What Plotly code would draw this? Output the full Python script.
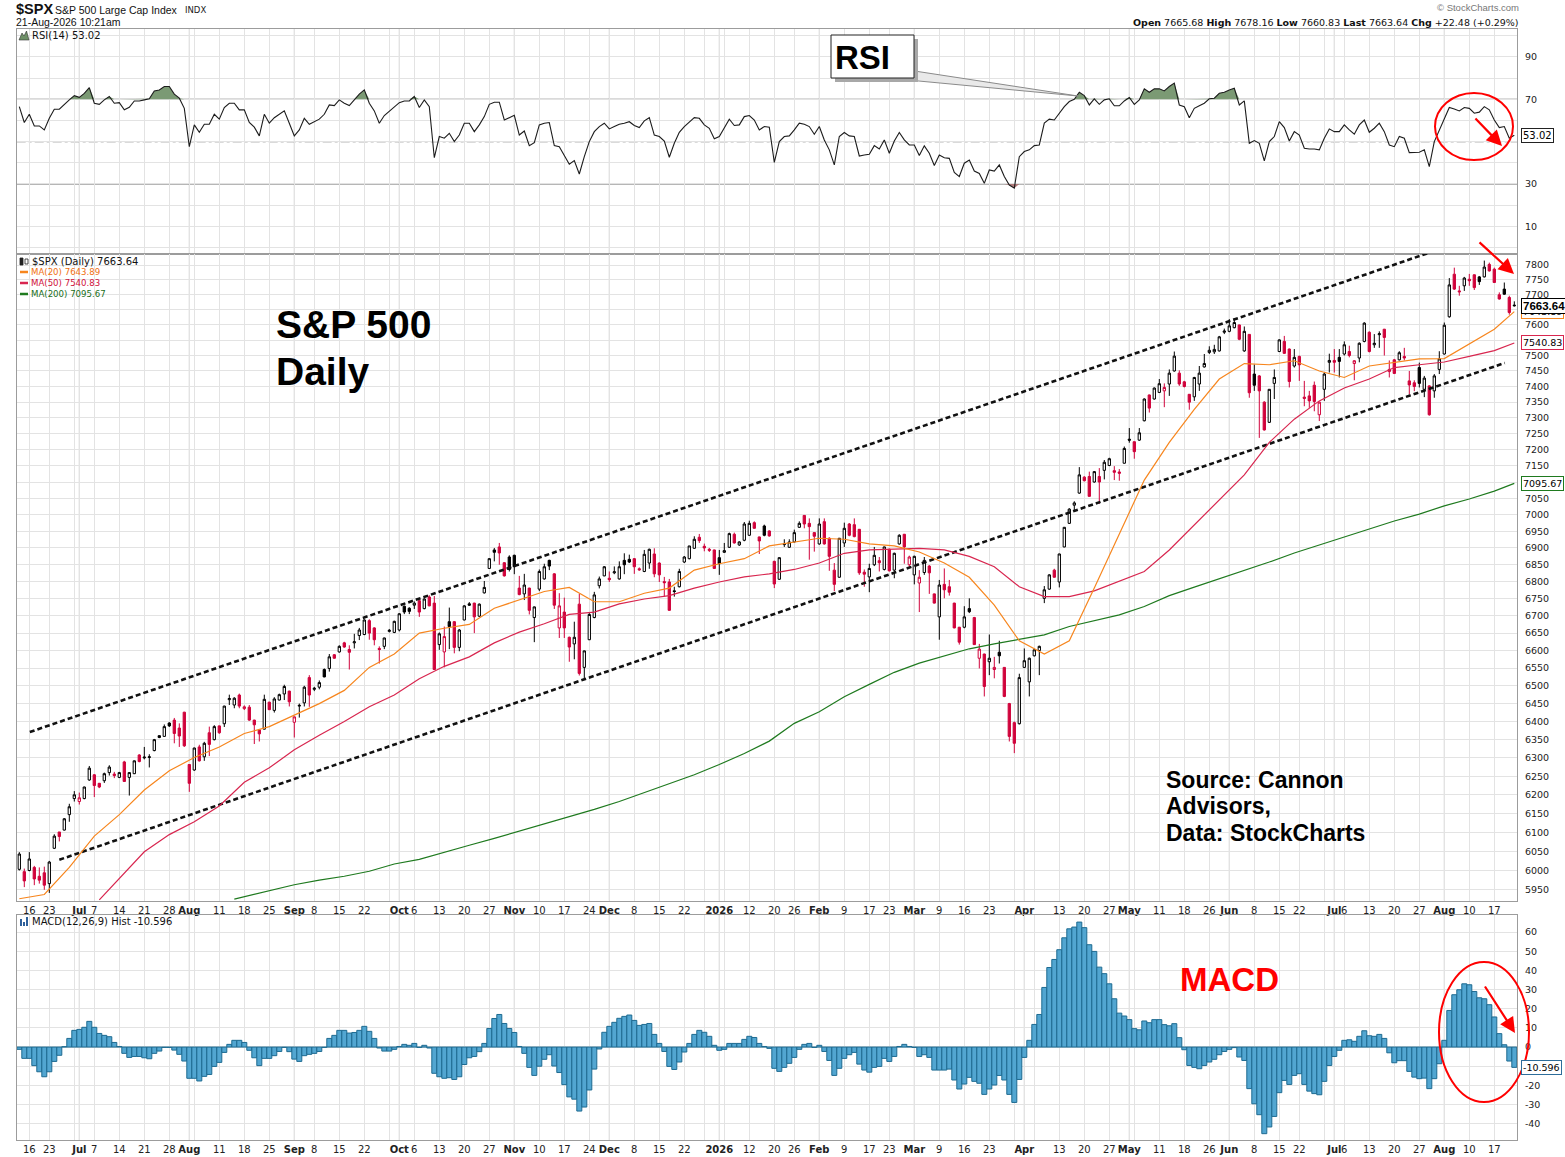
import numpy as np
import pandas as pd
import plotly.graph_objects as go

W, H = 1565, 1157
FONT = "DejaVu Sans"
ARIAL = "Liberation Sans"
RED = "#d0043c"

# ---------------- categories (trading days) ----------------
HOLIDAYS = ["2025-06-19", "2025-07-04", "2025-09-01", "2025-11-27", "2025-12-25",
            "2026-01-01", "2026-01-19", "2026-02-16", "2026-04-03", "2026-05-25",
            "2026-06-19", "2026-07-03"]
DATES = [d for d in pd.bdate_range("2025-06-12", "2026-08-21")
         if d.strftime("%Y-%m-%d") not in HOLIDAYS]
N = len(DATES)
X = list(range(N))
DSTR = [d.strftime("%Y-%m-%d") for d in DATES]
POS = {s: i for i, s in enumerate(DSTR)}

TICK_DATES = ["2025-06-16", "2025-06-23", "2025-07-01", "2025-07-07", "2025-07-14", "2025-07-21",
              "2025-07-28", "2025-08-01", "2025-08-11", "2025-08-18", "2025-08-25", "2025-09-02",
              "2025-09-08", "2025-09-15", "2025-09-22", "2025-10-01", "2025-10-06", "2025-10-13",
              "2025-10-20", "2025-10-27", "2025-11-03", "2025-11-10", "2025-11-17", "2025-11-24",
              "2025-12-01", "2025-12-08", "2025-12-15", "2025-12-22", "2026-01-02", "2026-01-12",
              "2026-01-20", "2026-01-26", "2026-02-02", "2026-02-09", "2026-02-17", "2026-02-23",
              "2026-03-02", "2026-03-09", "2026-03-16", "2026-03-23", "2026-04-01", "2026-04-13",
              "2026-04-20", "2026-04-27", "2026-05-01", "2026-05-11", "2026-05-18", "2026-05-26",
              "2026-06-01", "2026-06-08", "2026-06-15", "2026-06-22", "2026-07-01", "2026-07-06",
              "2026-07-13", "2026-07-20", "2026-07-27", "2026-08-03", "2026-08-10", "2026-08-17"]
TICK_TEXT = ["16", "23", "<b>Jul</b>", "7", "14", "21", "28", "<b>Aug</b>", "11", "18", "25",
             "<b>Sep</b>", "8", "15", "22", "<b>Oct</b>", "6", "13", "20", "27", "<b>Nov</b>",
             "10", "17", "24", "<b>Dec</b>", "8", "15", "22", "<b>2026</b>", "12", "20", "26",
             "<b>Feb</b>", "9", "17", "23", "<b>Mar</b>", "9", "16", "23", "<b>Apr</b>", "13",
             "20", "27", "<b>May</b>", "11", "18", "26", "<b>Jun</b>", "8", "15", "22",
             "<b>Jul</b>", "6", "13", "20", "27", "<b>Aug</b>", "10", "17"]

# ---------------- price data ----------------
OPEN = [
    6003, 5997, 6000, 6008, 5985, 5994, 5966, 6058, 6101, 6106,
    6147, 6190, 6182, 6190, 6240, 6254, 6231, 6238, 6260, 6256,
    6247, 6289, 6247, 6257, 6308, 6300, 6301, 6320, 6361, 6359,
    6396, 6404, 6382, 6426, 6282, 6267, 6330, 6303, 6369, 6350,
    6388, 6394, 6461, 6446, 6474, 6436, 6440, 6404, 6377, 6379,
    6454, 6431, 6460, 6477, 6485, 6398, 6443, 6452, 6523, 6490,
    6496, 6546, 6549, 6588, 6596, 6622, 6603, 6622, 6643, 6646,
    6686, 6665, 6606, 6612, 6655, 6652, 6659, 6728, 6722, 6731,
    6744, 6721, 6755, 6737, 6617, 6596, 6683, 6683, 6609, 6688,
    6735, 6737, 6699, 6767, 6839, 6894, 6903, 6856, 6873, 6878,
    6781, 6764, 6781, 6695, 6778, 6808, 6863, 6823, 6665, 6711,
    6638, 6619, 6734, 6552, 6631, 6695, 6788, 6817, 6810, 6826,
    6808, 6863, 6866, 6868, 6838, 6830, 6855, 6882, 6855, 6800,
    6799, 6773, 6785, 6858, 6868, 6899, 6932, 6905, 6896, 6894,
    6871, 6887, 6902, 6941, 6909, 6923, 6938, 6976, 6933, 6966,
    6951, 6860, 6807, 6910, 6902, 6918, 6962, 6998, 6974, 6946,
    6912, 6979, 6929, 6834, 6813, 6915, 6972, 6970, 6956, 6828,
    6814, 6850, 6862, 6836, 6896, 6834, 6912, 6941, 6850, 6820,
    6796, 6827, 6846, 6764, 6697, 6792, 6785, 6737, 6667, 6667,
    6721, 6695, 6578, 6590, 6568, 6546, 6595, 6552, 6450, 6397,
    6394, 6552, 6511, 6585, 6600, 6751, 6778, 6834, 6799, 6903,
    6974, 7029, 7066, 7115, 7117, 7100, 7117, 7136, 7151, 7135,
    7131, 7158, 7233, 7225, 7230, 7291, 7373, 7360, 7381, 7386,
    7408, 7450, 7443, 7415, 7375, 7367, 7408, 7463, 7510, 7512,
    7515, 7576, 7579, 7591, 7600, 7515, 7569, 7440, 7434, 7350,
    7286, 7410, 7513, 7546, 7521, 7466, 7497, 7366, 7370, 7404,
    7310, 7391, 7478, 7484, 7494, 7505, 7513, 7474, 7492, 7546,
    7576, 7535, 7568, 7586, 7448, 7486, 7486, 7497, 7418, 7412,
    7461, 7391, 7402, 7386, 7455, 7505, 7627, 7769, 7713, 7730,
    7752, 7767, 7760, 7760, 7802, 7786, 7700, 7719, 7691, 7665.68]

HIGH = [
    6048, 6005, 6048, 6012, 6008, 6010, 6025, 6095, 6101, 6138,
    6176, 6210, 6206, 6222, 6278, 6256, 6232, 6260, 6280, 6262,
    6262, 6292, 6261, 6293, 6310, 6330, 6310, 6352, 6362, 6392,
    6398, 6410, 6395, 6427, 6283, 6328, 6336, 6344, 6386, 6390,
    6389, 6444, 6475, 6468, 6478, 6445, 6446, 6405, 6378, 6475,
    6455, 6468, 6478, 6503, 6486, 6414, 6450, 6500, 6530, 6497,
    6515, 6549, 6590, 6590, 6615, 6625, 6615, 6648, 6665, 6690,
    6690, 6667, 6612, 6637, 6662, 6686, 6708, 6730, 6725, 6742,
    6746, 6751, 6760, 6758, 6652, 6669, 6724, 6685, 6662, 6731,
    6740, 6738, 6736, 6802, 6870, 6900, 6915, 6858, 6878, 6880,
    6817, 6823, 6782, 6727, 6836, 6853, 6865, 6825, 6766, 6753,
    6640, 6683, 6764, 6600, 6708, 6770, 6815, 6846, 6830, 6845,
    6860, 6884, 6880, 6870, 6842, 6894, 6898, 6899, 6857, 6814,
    6808, 6785, 6838, 6876, 6906, 6935, 6942, 6913, 6900, 6895,
    6894, 6915, 6946, 6946, 6920, 6978, 6982, 6980, 6934, 6970,
    6953, 6862, 6872, 6926, 6926, 6955, 6980, 6999, 6989, 6947,
    6989, 6989, 6932, 6855, 6930, 6976, 6975, 6989, 6957, 6836,
    6853, 6903, 6873, 6904, 6898, 6886, 6941, 6942, 6877, 6877,
    6834, 6873, 6849, 6765, 6805, 6839, 6805, 6738, 6668, 6728,
    6751, 6697, 6619, 6591, 6646, 6582, 6628, 6553, 6452, 6400,
    6534, 6606, 6580, 6605, 6614, 6787, 6822, 6838, 6883, 6963,
    7020, 7041, 7146, 7118, 7132, 7134, 7143, 7168, 7175, 7149,
    7140, 7210, 7268, 7226, 7268, 7362, 7374, 7397, 7424, 7410,
    7455, 7513, 7452, 7418, 7376, 7431, 7466, 7505, 7530, 7535,
    7564, 7588, 7619, 7622, 7601, 7595, 7570, 7471, 7437, 7353,
    7392, 7455, 7553, 7564, 7523, 7521, 7500, 7418, 7386, 7416,
    7352, 7445, 7506, 7521, 7521, 7546, 7532, 7485, 7543, 7609,
    7579, 7570, 7579, 7587, 7484, 7489, 7514, 7525, 7450, 7420,
    7477, 7434, 7404, 7440, 7514, 7608, 7756, 7791, 7730, 7760,
    7770, 7768, 7763, 7815, 7808, 7791, 7708, 7741, 7697, 7678.16]

LOW = [
    6000, 5957, 5998, 5962, 5966, 5950, 5942, 6056, 6076, 6105,
    6128, 6182, 6174, 6188, 6238, 6194, 6218, 6232, 6252, 6245,
    6245, 6235, 6198, 6256, 6288, 6296, 6274, 6318, 6354, 6358,
    6385, 6340, 6330, 6330, 6208, 6265, 6290, 6292, 6305, 6348,
    6366, 6385, 6446, 6437, 6437, 6432, 6402, 6338, 6345, 6378,
    6432, 6425, 6459, 6460, 6442, 6356, 6411, 6442, 6441, 6485,
    6490, 6524, 6540, 6577, 6594, 6608, 6546, 6606, 6630, 6644,
    6631, 6615, 6563, 6604, 6652, 6650, 6655, 6705, 6705, 6720,
    6697, 6719, 6728, 6545, 6602, 6552, 6604, 6592, 6598, 6687,
    6729, 6650, 6697, 6765, 6838, 6860, 6850, 6815, 6830, 6822,
    6760, 6746, 6704, 6624, 6772, 6806, 6834, 6720, 6636, 6636,
    6568, 6575, 6529, 6520, 6630, 6693, 6780, 6816, 6799, 6822,
    6806, 6822, 6855, 6823, 6832, 6828, 6838, 6813, 6799, 6756,
    6715, 6756, 6783, 6855, 6866, 6898, 6915, 6890, 6888, 6838,
    6820, 6885, 6900, 6913, 6906, 6920, 6936, 6958, 6882, 6935,
    6934, 6781, 6805, 6903, 6900, 6916, 6960, 6959, 6865, 6889,
    6910, 6910, 6832, 6772, 6812, 6903, 6935, 6932, 6820, 6785,
    6769, 6846, 6830, 6833, 6830, 6810, 6910, 6853, 6843, 6792,
    6711, 6820, 6764, 6736, 6631, 6751, 6759, 6664, 6617, 6664,
    6708, 6616, 6549, 6470, 6530, 6521, 6563, 6468, 6345, 6313,
    6392, 6550, 6470, 6583, 6530, 6737, 6776, 6812, 6783, 6902,
    6972, 7014, 7064, 7102, 7055, 7098, 7033, 7108, 7149, 7106,
    7104, 7157, 7222, 7172, 7228, 7289, 7317, 7358, 7379, 7334,
    7370, 7448, 7402, 7397, 7326, 7354, 7386, 7461, 7505, 7505,
    7513, 7570, 7576, 7589, 7550, 7512, 7364, 7386, 7237, 7260,
    7284, 7360, 7511, 7505, 7397, 7461, 7418, 7337, 7332, 7321,
    7290, 7354, 7445, 7445, 7429, 7500, 7494, 7420, 7478, 7543,
    7510, 7525, 7525, 7500, 7429, 7440, 7484, 7484, 7375, 7385,
    7397, 7366, 7307, 7364, 7440, 7503, 7624, 7716, 7697, 7713,
    7730, 7716, 7733, 7758, 7778, 7740, 7684, 7700, 7634, 7660.83]

CLOSE = [
    6043, 5973, 6030, 5978, 5975, 5962, 6022, 6090, 6089, 6136,
    6168, 6200, 6192, 6221, 6272, 6225, 6221, 6257, 6275, 6252,
    6260, 6236, 6260, 6292, 6290, 6302, 6303, 6350, 6356, 6386,
    6388, 6367, 6360, 6333, 6231, 6327, 6292, 6340, 6337, 6386,
    6369, 6443, 6464, 6465, 6443, 6441, 6404, 6391, 6366, 6462,
    6433, 6463, 6475, 6498, 6455, 6413, 6445, 6496, 6474, 6493,
    6509, 6525, 6582, 6578, 6612, 6610, 6595, 6625, 6659, 6688,
    6650, 6631, 6603, 6636, 6658, 6684, 6706, 6711, 6713, 6737,
    6711, 6749, 6729, 6546, 6648, 6640, 6669, 6609, 6659, 6729,
    6731, 6697, 6734, 6783, 6868, 6887, 6885, 6817, 6836, 6844,
    6762, 6790, 6716, 6726, 6830, 6844, 6846, 6731, 6729, 6665,
    6610, 6638, 6535, 6599, 6704, 6761, 6808, 6844, 6806, 6829,
    6844, 6850, 6858, 6844, 6835, 6881, 6896, 6823, 6820, 6797,
    6716, 6771, 6830, 6873, 6906, 6926, 6922, 6900, 6893, 6839,
    6853, 6892, 6943, 6915, 6918, 6972, 6974, 6959, 6921, 6938,
    6936, 6793, 6871, 6912, 6918, 6946, 6974, 6972, 6964, 6935,
    6972, 6912, 6875, 6792, 6929, 6959, 6938, 6934, 6826, 6822,
    6839, 6878, 6856, 6903, 6832, 6884, 6938, 6903, 6873, 6875,
    6813, 6863, 6826, 6737, 6790, 6776, 6769, 6665, 6624, 6697,
    6712, 6617, 6604, 6498, 6578, 6552, 6585, 6470, 6359, 6340,
    6523, 6571, 6578, 6602, 6612, 6776, 6820, 6813, 6882, 6962,
    7017, 7036, 7122, 7104, 7056, 7132, 7100, 7161, 7172, 7130,
    7127, 7204, 7230, 7194, 7253, 7360, 7331, 7395, 7409, 7397,
    7443, 7498, 7408, 7400, 7350, 7429, 7443, 7474, 7517, 7520,
    7561, 7580, 7597, 7608, 7553, 7579, 7380, 7404, 7386, 7262,
    7391, 7429, 7551, 7507, 7416, 7494, 7470, 7362, 7354, 7352,
    7350, 7440, 7484, 7478, 7481, 7535, 7500, 7483, 7540, 7606,
    7513, 7540, 7571, 7559, 7455, 7442, 7509, 7492, 7405, 7400,
    7410, 7427, 7310, 7434, 7489, 7599, 7733, 7719, 7710, 7756,
    7747, 7724, 7744, 7793, 7780, 7741, 7686, 7702, 7641.16, 7663.64]

# moving averages (sampled every 5 sessions, day numbers are 1-based)
MA20_DAYS = [1] + list(range(6, 297, 5)) + [300]
MA20 = [5927, 5938, 6008, 6090, 6147, 6213, 6265, 6301, 6330, 6367,
        6386, 6418, 6450, 6487, 6552, 6590, 6650, 6664, 6675, 6722,
        6746, 6771, 6783, 6741, 6741, 6766, 6781, 6834, 6853, 6868,
        6906, 6918, 6929, 6926, 6912, 6906, 6888, 6855, 6813, 6731,
        6628, 6590, 6628, 6781, 6943, 7106, 7223, 7327, 7424, 7474,
        7470, 7483, 7450, 7429, 7466, 7477, 7489, 7490, 7538, 7586,
        7643.89]
MA50_DAYS = [17] + list(range(21, 297, 5)) + [300]
MA50 = [5924, 5978, 6049, 6094, 6128, 6170, 6234, 6273, 6322, 6362,
        6400, 6441, 6474, 6520, 6555, 6582, 6622, 6653, 6677, 6704,
        6711, 6735, 6749, 6759, 6781, 6799, 6814, 6823, 6836, 6855,
        6884, 6894, 6896, 6899, 6894, 6875, 6844, 6785, 6756, 6756,
        6773, 6801, 6830, 6894, 6969, 7045, 7122, 7223, 7296, 7354,
        7395, 7424, 7461, 7470, 7479, 7497, 7516, 7540.83]
MA200_DAYS = [44] + list(range(46, 297, 5)) + [300]
MA200 = [5926, 5932, 5946, 5963, 5975, 5985, 5998, 6017, 6029, 6048,
         6066, 6084, 6103, 6124, 6142, 6161, 6182, 6206, 6230, 6254,
         6282, 6312, 6346, 6395, 6427, 6469, 6504, 6538, 6564, 6585,
         6605, 6619, 6633, 6645, 6669, 6686, 6703, 6727, 6759, 6784,
         6808, 6834, 6858, 6885, 6909, 6933, 6957, 6981, 7002, 7027,
         7048, 7072, 7095.67]

# hand-drawn channel lines (session index, price)
UPPER_X = [2.1, 291.1]
UPPER_Y = [6371, 7895]
LOWER_X = [8.0, 297.1]
LOWER_Y = [6028, 7476]

RSI = [
    66.5, 59.0, 62.9, 57.4, 57.4, 55.5, 61.0, 65.3, 65.3, 67.6,
    69.7, 71.7, 70.9, 72.8, 75.5, 68.1, 67.6, 69.7, 71.3, 68.1,
    68.4, 65.0, 66.2, 69.2, 69.2, 69.7, 70.2, 73.9, 74.4, 76.0,
    76.0, 72.4, 70.5, 65.7, 47.6, 57.9, 54.4, 58.2, 58.2, 62.9,
    60.6, 66.1, 68.1, 68.1, 65.0, 65.0, 59.1, 56.8, 52.7, 62.9,
    58.7, 61.3, 62.9, 64.5, 58.7, 52.7, 55.5, 61.0, 58.2, 59.4,
    60.6, 62.9, 67.3, 67.0, 69.7, 68.1, 67.0, 69.7, 72.4, 74.4,
    68.1, 64.5, 58.7, 62.3, 64.3, 66.2, 68.4, 69.2, 69.2, 71.3,
    66.1, 69.7, 66.5, 42.4, 52.4, 51.6, 53.9, 50.0, 53.1, 58.7,
    58.7, 54.7, 57.9, 61.8, 67.6, 68.6, 68.6, 60.2, 61.3, 62.4,
    53.1, 55.0, 48.1, 49.5, 57.9, 58.7, 59.0, 48.1, 47.6, 43.7,
    39.3, 41.0, 34.7, 42.9, 50.0, 54.7, 57.1, 58.7, 56.0, 57.1,
    58.2, 58.7, 59.4, 57.6, 56.6, 59.8, 61.3, 53.1, 52.4, 50.3,
    42.6, 49.2, 54.4, 57.1, 59.4, 61.3, 61.0, 57.9, 56.3, 51.3,
    52.4, 56.3, 60.6, 57.6, 57.9, 61.8, 62.3, 60.2, 55.5, 57.1,
    56.8, 40.2, 50.0, 52.4, 52.7, 55.5, 58.7, 58.2, 57.1, 53.5,
    57.1, 50.8, 46.1, 39.0, 52.4, 54.3, 52.7, 52.4, 43.2, 43.7,
    44.0, 48.1, 46.5, 50.8, 44.5, 50.3, 54.3, 50.8, 48.4, 48.4,
    43.4, 48.0, 44.5, 38.7, 43.7, 42.4, 42.1, 35.5, 33.5, 39.8,
    41.3, 36.1, 35.0, 30.3, 36.6, 36.1, 39.0, 33.5, 29.5, 28.0,
    42.9, 45.3, 46.1, 48.1, 48.4, 58.7, 60.6, 60.2, 63.4, 66.5,
    68.9, 70.0, 73.3, 71.7, 67.3, 70.2, 67.6, 69.7, 70.2, 66.9,
    66.9, 69.2, 70.8, 67.6, 69.7, 74.9, 73.3, 74.9, 74.9, 73.9,
    76.0, 77.6, 67.3, 66.5, 61.3, 65.7, 66.9, 68.1, 70.2, 70.5,
    72.8, 73.3, 74.4, 75.2, 67.3, 69.2, 49.2, 50.5, 49.2, 40.9,
    50.0, 52.4, 59.4, 56.6, 50.3, 54.7, 53.1, 46.9, 46.5, 46.5,
    46.1, 51.6, 56.0, 54.7, 54.7, 57.9, 55.5, 53.5, 57.9, 60.2,
    54.4, 56.3, 58.7, 54.7, 48.4, 47.6, 52.4, 51.6, 44.8, 45.0,
    45.0, 46.1, 38.2, 50.0, 55.5, 61.0, 66.1, 65.4, 64.5, 66.1,
    65.7, 63.4, 63.9, 66.5, 65.0, 60.2, 56.6, 57.1, 51.6, 53.02]

MACD_HIST = [
    -1.2, -5.9, -5.9, -9.7, -12.9, -15.5, -12.9, -7.5, -4.3, 0.2,
    4.5, 8.7, 9.2, 10.3, 13.4, 10.3, 7.1, 6.1, 5.4, 2.4,
    0.3, -3.3, -5.4, -4.9, -4.9, -5.6, -6.1, -3.3, -2.1, -0.2,
    -0.2, -1.6, -3.8, -7.3, -16.3, -16.3, -17.7, -15.3, -14.3, -10.1,
    -8.0, -2.8, 1.4, 3.5, 3.5, 2.4, -1.7, -5.6, -9.7, -5.9,
    -5.9, -4.5, -2.3, -0.2, -2.4, -6.3, -7.5, -4.5, -3.8, -3.3,
    -2.3, -0.2, 4.5, 6.1, 8.7, 8.7, 7.3, 7.6, 8.7, 10.8,
    8.2, 4.5, -0.5, -2.1, -2.1, -1.2, 0.3, 1.4, 0.9, 1.9,
    -0.2, 0.9, -0.5, -13.7, -15.5, -16.3, -16.0, -16.9, -15.5, -9.1,
    -5.6, -4.9, -2.4, 1.9, 9.7, 14.9, 17.0, 12.3, 9.7, 7.6,
    0.3, -3.3, -10.6, -14.8, -10.0, -6.4, -4.0, -9.9, -13.3, -19.6,
    -26.0, -27.2, -33.4, -31.3, -22.4, -11.5, -1.0, 7.7, 10.8, 12.9,
    15.0, 16.0, 16.7, 13.9, 11.3, 11.8, 12.3, 6.6, 1.9, -2.3,
    -10.1, -11.7, -7.8, -2.6, 1.9, 6.6, 8.7, 7.7, 5.6, 0.9,
    -1.7, -1.2, 1.9, 1.9, 1.9, 4.0, 5.6, 5.0, 1.9, 0.3,
    -0.7, -11.1, -12.7, -10.6, -8.5, -5.4, -1.2, 1.4, 1.9, -0.2,
    0.9, -2.3, -7.0, -14.8, -11.1, -5.9, -4.0, -2.8, -8.9, -12.0,
    -13.1, -10.6, -10.1, -5.9, -7.5, -4.9, 0.3, 1.4, 0.3, -0.2,
    -4.9, -4.0, -5.4, -12.0, -12.0, -12.0, -11.5, -17.2, -21.9, -19.3,
    -15.8, -17.9, -18.9, -24.7, -21.9, -19.8, -14.8, -17.2, -24.7, -28.9,
    -16.9, -5.4, 3.5, 11.8, 17.0, 31.1, 41.5, 45.7, 50.8, 57.0,
    61.7, 62.6, 65.2, 62.3, 53.4, 49.9, 41.7, 38.3, 33.0, 25.2,
    17.7, 16.2, 14.3, 9.6, 9.0, 13.6, 12.7, 14.3, 14.3, 11.7,
    11.1, 12.2, 4.9, -1.4, -9.6, -10.6, -11.3, -9.6, -7.8, -6.4,
    -4.0, -2.3, -1.2, -0.3, -5.2, -7.0, -21.7, -29.6, -35.3, -45.2,
    -41.7, -36.2, -23.8, -17.4, -19.5, -14.8, -13.9, -19.5, -23.0, -24.3,
    -24.9, -17.9, -9.6, -4.9, -1.7, 3.5, 3.8, 3.0, 5.6, 8.5,
    5.9, 5.6, 6.6, 4.5, -3.0, -8.2, -7.1, -7.1, -12.7, -15.7,
    -16.5, -16.2, -21.7, -16.5, -8.7, 3.5, 19.1, 27.3, 29.9, 33.0,
    32.5, 29.0, 25.7, 25.2, 22.1, 15.7, 7.0, 1.2, -7.3, -10.596]

PRICE_TICKS = list(range(5950, 7801, 50))
PRICE_HIDDEN = [7650, 7550, 7100]          # covered by the last-value boxes
RSI_TICKS = [10, 30, 50, 70, 90]
RSI_HIDDEN = [50]
MACD_TICKS = list(range(-40, 61, 10))
MACD_HIDDEN = [-10]

assert N == 300, N
for arr in (OPEN, HIGH, LOW, CLOSE, RSI, MACD_HIST):
    assert len(arr) == N, len(arr)
assert len(MA20) == len(MA20_DAYS) and len(MA50) == len(MA50_DAYS) and len(MA200) == len(MA200_DAYS)

# ---------------- geometry (pixels of the 1565x1157 page) ----------------
XL, XR_ = 16.7, 1517.0
RSI_T, RSI_B = 28.7, 254.0
PR_T, PR_B = 254.0, 900.5
MD_T, MD_B = 915.0, 1140.0


def px(x):
    return x / W


def py(y):
    return 1 - y / H


X_RANGE = [-0.52, 299.54]
PRICE_RANGE = [np.log10(5922.5), np.log10(7837.3)]
RSI_RANGE = [-3.06, 103.3]
MACD_RANGE = [-48.5, 68.9]

tick_pos = [POS[d] for d in TICK_DATES]
week_pos = [i for i in range(1, N) if DATES[i].isocalendar()[1] != DATES[i - 1].isocalendar()[1]]
minor_pos = [i for i in week_pos if i not in tick_pos]
month_pos = [i for i in range(1, N) if DATES[i].month != DATES[i - 1].month]

GRID = "#e3e3e3"
DARKGRID = "#c4c4c4"
BORDER = "#9c9c9c"

fig = go.Figure()

# ---------------- RSI panel ----------------
rsi = np.array(RSI)
fig.add_trace(go.Scatter(x=X, y=[70] * N, mode="lines", line=dict(width=0), hoverinfo="skip",
                         xaxis="x", yaxis="y"))
fig.add_trace(go.Scatter(x=X, y=np.maximum(rsi, 70), mode="lines", line=dict(width=0),
                         fill="tonexty", fillcolor="#7b9a74", hoverinfo="skip", xaxis="x", yaxis="y"))
fig.add_trace(go.Scatter(x=X, y=[30] * N, mode="lines", line=dict(width=0), hoverinfo="skip",
                         xaxis="x", yaxis="y"))
fig.add_trace(go.Scatter(x=X, y=np.minimum(rsi, 30), mode="lines", line=dict(width=0),
                         fill="tonexty", fillcolor="#b07a7a", hoverinfo="skip", xaxis="x", yaxis="y"))
fig.add_trace(go.Scatter(x=X, y=RSI, mode="lines", line=dict(color="#1c1c1c", width=1.1),
                         xaxis="x", yaxis="y"))

# ---------------- price panel ----------------
for xs, ys in ((UPPER_X, UPPER_Y), (LOWER_X, LOWER_Y)):
    fig.add_trace(go.Scatter(x=xs, y=ys, mode="lines",
                             line=dict(color="#111", width=2.6, dash="5px,3px"),
                             xaxis="x2", yaxis="y2"))

fig.add_trace(go.Scatter(x=[d - 1 for d in MA200_DAYS], y=MA200, mode="lines",
                         line=dict(color="#1f7a1f", width=1.2), xaxis="x2", yaxis="y2"))
fig.add_trace(go.Scatter(x=[d - 1 for d in MA50_DAYS], y=MA50, mode="lines",
                         line=dict(color="#d8264f", width=1.2), xaxis="x2", yaxis="y2"))
fig.add_trace(go.Scatter(x=[d - 1 for d in MA20_DAYS], y=MA20, mode="lines",
                         line=dict(color="#f7861e", width=1.2), xaxis="x2", yaxis="y2"))

black_idx = [i for i in range(N) if i == 0 or CLOSE[i] >= CLOSE[i - 1]]
red_idx = [i for i in range(N) if i > 0 and CLOSE[i] < CLOSE[i - 1]]
for idx, col in ((black_idx, "#000000"), (red_idx, RED)):
    fig.add_trace(go.Candlestick(
        x=idx,
        open=[OPEN[i] for i in idx], high=[HIGH[i] for i in idx],
        low=[LOW[i] for i in idx], close=[CLOSE[i] for i in idx],
        increasing=dict(line=dict(color=col, width=1), fillcolor="#ffffff"),
        decreasing=dict(line=dict(color=col, width=1), fillcolor=col),
        whiskerwidth=0, xaxis="x2", yaxis="y2"))

# ---------------- MACD panel ----------------
fig.add_trace(go.Bar(x=X, y=MACD_HIST, width=1.0,
                     marker=dict(color="#52a6d1", line=dict(color="#1d6a90", width=1)),
                     xaxis="x3", yaxis="y3"))


# ---------------- axes ----------------
def xaxis(domain_anchor, labels):
    return dict(
        anchor=domain_anchor, domain=[px(XL), px(XR_)], range=X_RANGE,
        tickmode="array", tickvals=tick_pos, ticktext=TICK_TEXT, tickangle=0,
        showticklabels=labels, ticks="",
        tickfont=dict(family=FONT, size=10, color="#222"),
        showgrid=True, gridcolor=GRID, gridwidth=1,
        minor=dict(tickvals=minor_pos, showgrid=True, gridcolor=GRID, gridwidth=1, ticks=""),
        showline=True, linecolor=BORDER, linewidth=1, mirror=True, zeroline=False,
        rangeslider=dict(visible=False), fixedrange=True)


def yaxis(dom, rng, tickvals, hidden, **kw):
    d = dict(domain=dom, range=rng, side="right", tickmode="array", tickvals=tickvals,
             ticktext=["" if v in hidden else str(v) for v in tickvals],
             ticks="", ticklabelstandoff=5,
             tickfont=dict(family=FONT, size=9.5, color="#222"),
             showgrid=True, gridcolor=GRID, gridwidth=1,
             showline=True, linecolor=BORDER, linewidth=1, mirror=True, zeroline=False,
             fixedrange=True)
    d.update(kw)
    return d


fig.update_layout(
    width=W, height=H, margin=dict(l=0, r=0, t=0, b=0),
    paper_bgcolor="white", plot_bgcolor="white", showlegend=False,
    boxgap=0.34, barmode="overlay",
    xaxis=xaxis("y", False),
    xaxis2=xaxis("y2", True) | dict(matches="x"),
    xaxis3=xaxis("y3", True) | dict(matches="x"),
    yaxis=yaxis([py(RSI_B), py(RSI_T)], RSI_RANGE, RSI_TICKS, RSI_HIDDEN,
                minor=dict(tickvals=[0, 20, 40, 60, 80, 100], showgrid=True, gridcolor=GRID)),
    yaxis2=yaxis([py(PR_B), py(PR_T)], PRICE_RANGE, PRICE_TICKS, PRICE_HIDDEN, type="log"),
    yaxis3=yaxis([py(MD_B), py(MD_T)], MACD_RANGE, MACD_TICKS, MACD_HIDDEN),
)

shapes = []
# month separators (darker grid)
for xr, yr in (("x", "y domain"), ("x2", "y2 domain"), ("x3", "y3 domain")):
    for m in month_pos:
        shapes.append(dict(type="line", xref=xr, yref=yr, x0=m, x1=m, y0=0, y1=1,
                           line=dict(color=DARKGRID, width=1), layer="below"))
# RSI reference lines
for lvl, dash in ((70, "solid"), (30, "solid"), (50, "dashdot")):
    shapes.append(dict(type="line", xref="x domain", yref="y", x0=0, x1=1, y0=lvl, y1=lvl,
                       line=dict(color="#6e6e6e", width=1.1, dash=dash), layer="below"))
shapes.append(dict(type="line", xref="x3 domain", yref="y3", x0=0, x1=1, y0=0, y1=0,
                   line=dict(color="#bbbbbb", width=1), layer="below"))

# RSI legend icon (small mountain)
shapes.append(dict(type="path", xref="paper", yref="paper",
                   path=f"M {px(19)},{py(40)} L {px(22)},{py(33)} L {px(24)},{py(36)} "
                        f"L {px(26.5)},{py(31)} L {px(29)},{py(40)} Z",
                   fillcolor="#6d8f66", line=dict(color="#333", width=0.6)))
# MA legend swatches
for yy, col in ((272, "#f7861e"), (283, "#d8264f"), (294, "#1f7a1f")):
    shapes.append(dict(type="line", xref="paper", yref="paper", x0=px(20), x1=px(28),
                       y0=py(yy), y1=py(yy), line=dict(color=col, width=2.5)))
# MACD legend icon (bars)
for bx, bt in ((20, 919), (23, 922), (26, 917)):
    shapes.append(dict(type="rect", xref="paper", yref="paper", x0=px(bx), x1=px(bx + 2),
                       y0=py(926), y1=py(bt), fillcolor="#2d5f9a", line=dict(width=0)))
# SPX legend icon (two tiny candles)
shapes.append(dict(type="rect", xref="paper", yref="paper", x0=px(20), x1=px(23),
                   y0=py(265), y1=py(258), fillcolor="#222", line=dict(color="#222", width=0.8)))
shapes.append(dict(type="rect", xref="paper", yref="paper", x0=px(25), x1=px(28),
                   y0=py(264), y1=py(259), fillcolor="white", line=dict(color="#222", width=0.8)))

# RSI callout box with shadow and pointer
shapes.append(dict(type="path", xref="paper", yref="paper",
                   path=f"M {px(908)},{py(70)} L {px(1078)},{py(96)} L {px(908)},{py(80)} Z",
                   fillcolor="#e9e9e9", line=dict(color="#8a8a8a", width=1)))
shapes.append(dict(type="rect", xref="paper", yref="paper", x0=px(835), x1=px(918),
                   y0=py(82), y1=py(39), fillcolor="#a8a8a8", line=dict(width=0)))
shapes.append(dict(type="rect", xref="paper", yref="paper", x0=px(831), x1=px(914),
                   y0=py(78), y1=py(35), fillcolor="white", line=dict(color="#222", width=1)))

# red ellipses
shapes.append(dict(type="circle", xref="paper", yref="paper", x0=px(1435), x1=px(1513),
                   y0=py(160), y1=py(93), line=dict(color="#ff0000", width=2)))
shapes.append(dict(type="circle", xref="paper", yref="paper", x0=px(1439), x1=px(1529),
                   y0=py(1102), y1=py(962), line=dict(color="#ff0000", width=2)))

ann = []


def txt(x, y, s, size, color="#000", family=FONT, xanchor="left", yanchor="middle", **kw):
    d = dict(x=px(x), y=py(y), xref="paper", yref="paper", text=s, showarrow=False,
             font=dict(family=family, size=size, color=color), xanchor=xanchor, yanchor=yanchor)
    d.update(kw)
    return d


# header
ann.append(txt(14, 9, "<b>$SPX</b>", 14.5, "#111", ARIAL))
ann.append(txt(53, 9.5, "S&P 500 Large Cap Index", 10.5, "#111", ARIAL))
ann.append(txt(183, 10, "INDX", 8.5, "#222", FONT))
ann.append(txt(14, 22, "21-Aug-2026 10:21am", 10.5, "#111", ARIAL))
ann.append(txt(1521, 8, "© StockCharts.com", 9.5, "#777", ARIAL, xanchor="right"))
ann.append(txt(1521, 22, "<b>Open</b> 7665.68 <b>High</b> 7678.16 <b>Low</b> 7660.83 "
                         "<b>Last</b> 7663.64 <b>Chg</b> +22.48 (+0.29%)", 9.5, "#111", FONT,
               xanchor="right"))

# panel legends
ann.append(txt(30, 35, "RSI(14) 53.02", 10, "#111"))
ann.append(txt(30, 261, "$SPX (Daily) 7663.64", 10, "#111"))
ann.append(txt(29, 272, "MA(20) 7643.89", 8.6, "#f07010"))
ann.append(txt(29, 283, "MA(50) 7540.83", 8.6, "#d0103a"))
ann.append(txt(29, 294, "MA(200) 7095.67", 8.6, "#1a6e1a"))
ann.append(txt(30, 921, "MACD(12,26,9) Hist -10.596", 10, "#111"))

# chart annotations
ann.append(txt(274, 324, "<b>S&P 500</b>", 39, "#000", ARIAL))
ann.append(txt(274, 372, "<b>Daily</b>", 39, "#000", ARIAL))
for yy, line in ((780, "Source: Cannon"), (806, "Advisors,"), (833, "Data: StockCharts")):
    ann.append(txt(1164, yy, f"<b>{line}</b>", 23, "#000", ARIAL))
ann.append(txt(862, 57, "<b>RSI</b>", 33, "#000", ARIAL, xanchor="center"))
ann.append(txt(1229, 979, "<b>MACD</b>", 33, "#ff0000", ARIAL, xanchor="center"))


def arrow(x0, y0, x1, y1):
    return dict(x=px(x1), y=py(y1), xref="paper", yref="paper", ax=x0 - x1, ay=y0 - y1,
                showarrow=True, arrowhead=2, arrowsize=1.4, arrowwidth=2.2,
                arrowcolor="#ff0000", text="")


ann.append(arrow(1478, 241, 1514, 274))
ann.append(arrow(1474, 117, 1502, 146))
ann.append(arrow(1484, 985, 1515, 1033))


# last-value boxes on the right axis
def vbox(yref, y, s, border, size=9.5, bold=False, family=FONT):
    return dict(x=px(1521), xref="paper", y=y, yref=yref,
                text=f"<b>{s}</b>" if bold else s, showarrow=False,
                xanchor="left", yanchor="middle",
                font=dict(family=family, size=size, color="#000"),
                bgcolor="white", bordercolor=border, borderwidth=1, borderpad=1)


ann.append(vbox("y2", np.log10(MA20[-1]), f"{MA20[-1]:.2f}", "#f7861e"))
ann.append(vbox("y2", np.log10(CLOSE[-1]), f"{CLOSE[-1]:.2f}", "#000", 11.5, True, ARIAL))
ann.append(vbox("y2", np.log10(MA50[-1]), f"{MA50[-1]:.2f}", "#d8264f"))
ann.append(vbox("y2", np.log10(MA200[-1]), f"{MA200[-1]:.2f}", "#1f7a1f"))
ann.append(vbox("y", RSI[-1], f"{RSI[-1]:.2f}", "#222", 10))
ann.append(vbox("y3", MACD_HIST[-1], f"{MACD_HIST[-1]:.3f}", "#2d6d9a"))

fig.update_layout(shapes=shapes, annotations=ann)

fig.write_html("out.html", config={"displayModeBar": False},
               post_script="document.body.style.margin='0px';")
